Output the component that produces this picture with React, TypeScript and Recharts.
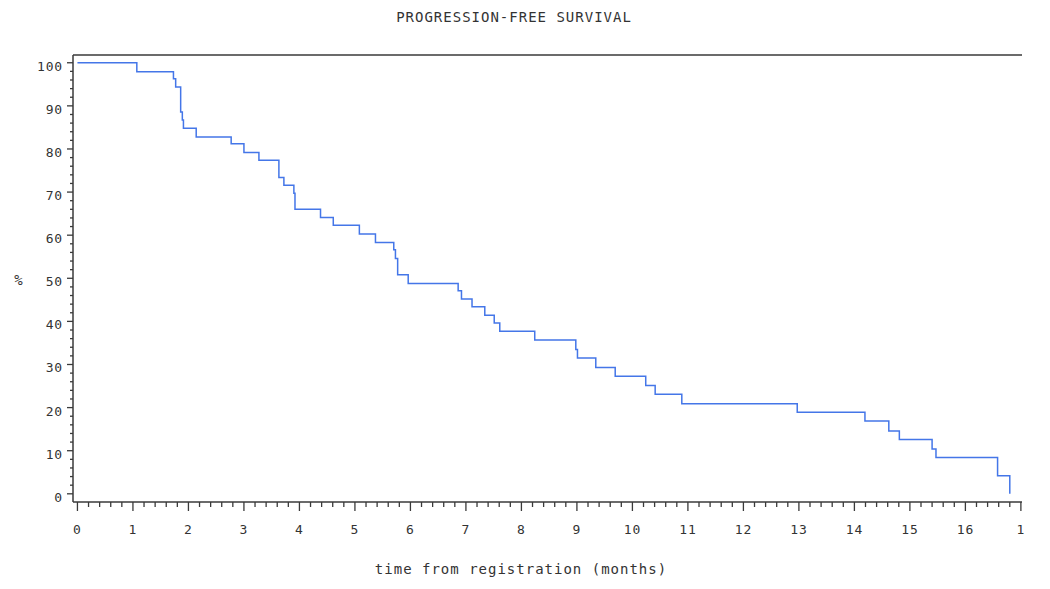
import { LineChart, Line, XAxis, YAxis, ReferenceLine } from "recharts";

// Kaplan-Meier estimate: time (months) where each level starts, and the level in %
const MONTHS = [
  0, 1.07, 1.73, 1.77, 1.86, 1.89, 1.91, 2.14, 2.77, 3.0, 3.27, 3.63, 3.72, 3.9, 3.92,
  4.38, 4.61, 5.08, 5.37, 5.7, 5.73, 5.77, 5.96, 6.86, 6.92, 7.11, 7.34, 7.51, 7.61,
  8.24, 8.98, 9.01, 9.34, 9.69, 10.24, 10.41, 10.89, 12.97, 14.19, 14.62, 14.81,
  15.4, 15.47, 16.58, 16.8,
];
const PFS = [
  100, 97.9, 96.3, 94.4, 88.6, 86.7, 84.8, 82.8, 81.2, 79.2, 77.4, 73.4, 71.6, 69.7, 66.0,
  64.1, 62.3, 60.3, 58.3, 56.6, 54.6, 50.8, 48.8, 47.1, 45.2, 43.4, 41.4, 39.6, 37.7,
  35.7, 33.5, 31.5, 29.3, 27.3, 25.1, 23.1, 20.9, 18.9, 16.9, 14.6, 12.6,
  10.4, 8.4, 4.2, 0,
];

const X_TICK_LABELS = [
  "0", "1", "2", "3", "4", "5", "6", "7", "8", "9", "10", "11", "12", "13", "14", "15", "16", "1",
];
const Y_TICK_LABELS = ["0", "10", "20", "30", "40", "50", "60", "70", "80", "90", "100"];

const X_DOMAIN: [number, number] = [-0.08, 17.02];
const Y_DOMAIN: [number, number] = [-1.9, 101.8];

const data = MONTHS.map((m, i) => ({ month: m, pfs: PFS[i] }));

// minor ticks every 0.2 month and every 2 %
const xTicks = Array.from({ length: 17 * 5 + 1 }, (_, k) => k / 5);
const yTicks = Array.from({ length: 51 }, (_, k) => k * 2);

const AXIS = "#3a3a3a";
const TEXT = "#333";
const FONT = "'DejaVu Sans Mono', monospace";

const isMajor = (v: number) => Math.abs(v - Math.round(v)) < 1e-6;

function XTick({ x, y, payload }: any) {
  const v = payload.value;
  const major = isMajor(v);
  return (
    <g>
      <line x1={x} x2={x} y1={y} y2={y + (major ? 9 : 5)} stroke={AXIS} strokeWidth={1.3} />
      {major && (
        <text x={x} y={y + 32} textAnchor="middle" fontFamily={FONT} fontSize={13} letterSpacing={0.8} fill={TEXT}>
          {X_TICK_LABELS[Math.round(v)]}
        </text>
      )}
    </g>
  );
}

function YTick({ x, y, payload }: any) {
  const v = payload.value;
  const major = v % 10 === 0;
  return (
    <g>
      <line x1={x - (major ? 6 : 3)} x2={x} y1={y} y2={y} stroke={AXIS} strokeWidth={1.3} />
      {major && (
        <text x={x - 10} y={y + 8} textAnchor="end" fontFamily={FONT} fontSize={13} letterSpacing={0.8} fill={TEXT}>
          {Y_TICK_LABELS[v / 10]}
        </text>
      )}
    </g>
  );
}

const label = (left: number, top: number, text: string) => (
  <div
    style={{
      position: "absolute",
      left,
      top,
      transform: "translate(-50%, -50%)",
      fontFamily: FONT,
      fontSize: 14,
      letterSpacing: 1,
      color: TEXT,
      whiteSpace: "nowrap",
    }}
  >
    {text}
  </div>
);

export default function App() {
  return (
    <div style={{ position: "absolute", left: 0, top: 0, width: 1050, height: 589, background: "#fff" }}>
      <LineChart width={1050} height={589} data={data} margin={{ top: 55, right: 28, left: 0, bottom: 0 }}>
        <XAxis
          dataKey="month"
          type="number"
          domain={X_DOMAIN}
          ticks={xTicks}
          interval={0}
          height={87}
          tickSize={0}
          tickMargin={0}
          tickLine={false}
          tick={<XTick />}
          axisLine={{ stroke: AXIS, strokeWidth: 1.5 }}
        />
        <YAxis
          type="number"
          domain={Y_DOMAIN}
          ticks={yTicks}
          interval={0}
          width={73}
          tickSize={0}
          tickMargin={0}
          tickLine={false}
          tick={<YTick />}
          axisLine={{ stroke: AXIS, strokeWidth: 1.5 }}
        />
        <ReferenceLine y={Y_DOMAIN[1]} stroke={AXIS} strokeWidth={1.5} />
        <Line
          type="stepAfter"
          dataKey="pfs"
          stroke="#4476e8"
          strokeWidth={1.5}
          dot={false}
          isAnimationActive={false}
        />
      </LineChart>
      {label(514, 17, "PROGRESSION-FREE SURVIVAL")}
      {label(19, 280, "%")}
      {label(521, 569, "time from registration (months)")}
    </div>
  );
}
